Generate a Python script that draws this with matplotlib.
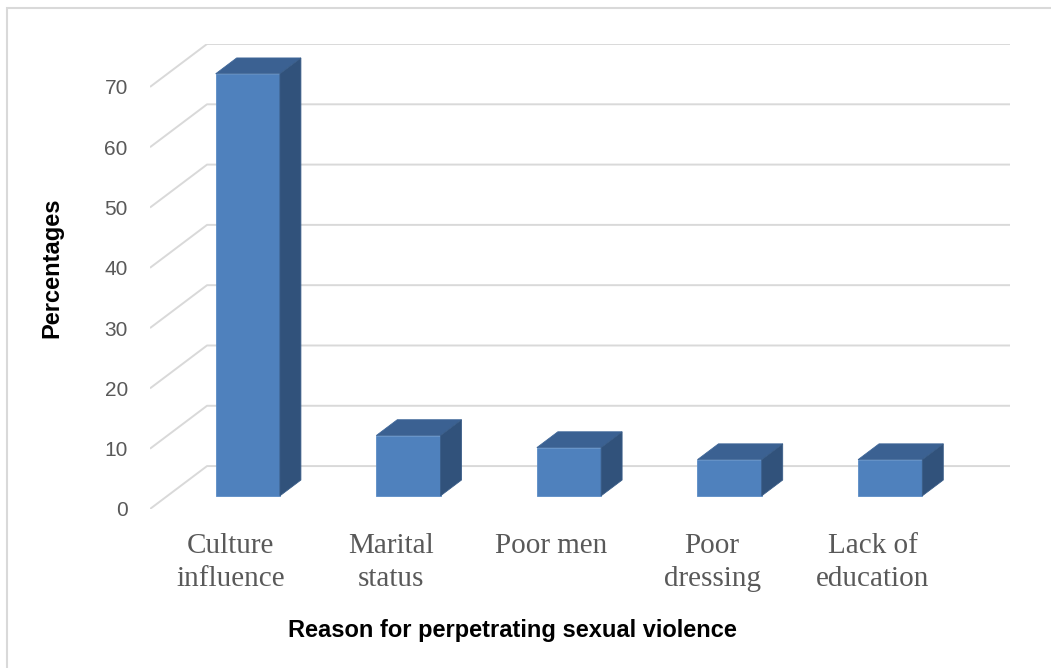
import matplotlib
matplotlib.use('Agg')
import matplotlib.pyplot as plt
from matplotlib.patches import Polygon, Rectangle

# data
categories = ['Culture\ninfluence', 'Marital\nstatus', 'Poor men', 'Poor\ndressing', 'Lack of\neducation']
values = [70, 10, 8, 6, 6]
y_ticks = [0, 10, 20, 30, 40, 50, 60, 70]

W, H = 1051, 668
fig = plt.figure(figsize=(W / 100, H / 100), dpi=100)

# fake 3D: full depth of the plot box, in data units
DX, DY = 0.355, 7.12
d0, d1 = 0.307, 0.675   # bar front / back depth
bw = 0.4                # bar width (categories)

ax = fig.add_axes([150 / W, (H - 509) / H, 860 / W, (509 - 44) / H])
ax.set_xlim(0, len(categories) + DX)
ax.set_ylim(0, max(y_ticks) + DY)

grid_c = '#d9d9d9'
for t in y_ticks:
    ax.plot([0, DX, len(categories) + DX], [t, t + DY, t + DY], color=grid_c, lw=1.4, zorder=1,
            solid_capstyle='butt')

front_c, top_c, side_c = '#4f81bd', '#3b6192', '#31527b'
for i, v in enumerate(values):
    x0 = i + 0.5 - bw / 2 + d0 * DX
    y0 = d0 * DY
    ox, oy = (d1 - d0) * DX, (d1 - d0) * DY
    front = Rectangle((x0, y0), bw, v, facecolor=front_c, edgecolor='#5b8cc6', lw=0.6, zorder=3)
    top = Polygon([(x0, y0 + v), (x0 + bw, y0 + v), (x0 + bw + ox, y0 + v + oy), (x0 + ox, y0 + v + oy)],
                  closed=True, facecolor=top_c, edgecolor='#3f6799', lw=0.6, zorder=3)
    side = Polygon([(x0 + bw, y0), (x0 + bw + ox, y0 + oy), (x0 + bw + ox, y0 + v + oy), (x0 + bw, y0 + v)],
                   closed=True, facecolor=side_c, edgecolor='#3a5d88', lw=0.6, zorder=3)
    for p in (front, top, side):
        ax.add_patch(p)

ax.set_yticks(y_ticks)
ax.set_yticklabels([str(t) for t in y_ticks], fontsize=15, color='#595959', family='Liberation Sans')
ax.set_xticks([i + 0.5 for i in range(len(categories))])
ax.set_xticklabels(categories, fontsize=21, color='#595959', family='Liberation Serif', linespacing=1.38)
ax.tick_params(axis='y', length=0, pad=16)
ax.tick_params(axis='x', length=0, pad=17)
for s in ax.spines.values():
    s.set_visible(False)
ax.patch.set_alpha(0)

fig.text(52 / W, 1 - 268 / H, 'Percentages', rotation=90, ha='center', va='center',
         fontsize=17, fontweight='bold', family='Liberation Sans')
fig.text(512 / W, 1 - 631 / H, 'Reason for perpetrating sexual violence', ha='center', va='center',
         fontsize=17, fontweight='bold', family='Liberation Sans')

# chart frame (right and bottom edges fall outside the picture)
fig.add_artist(Rectangle((7 / W, -0.1), 1.2, (H - 8) / H + 0.1, transform=fig.transFigure,
                         fill=False, edgecolor='#d9d9d9', lw=1.5))

fig.savefig('out.png', dpi=100)
